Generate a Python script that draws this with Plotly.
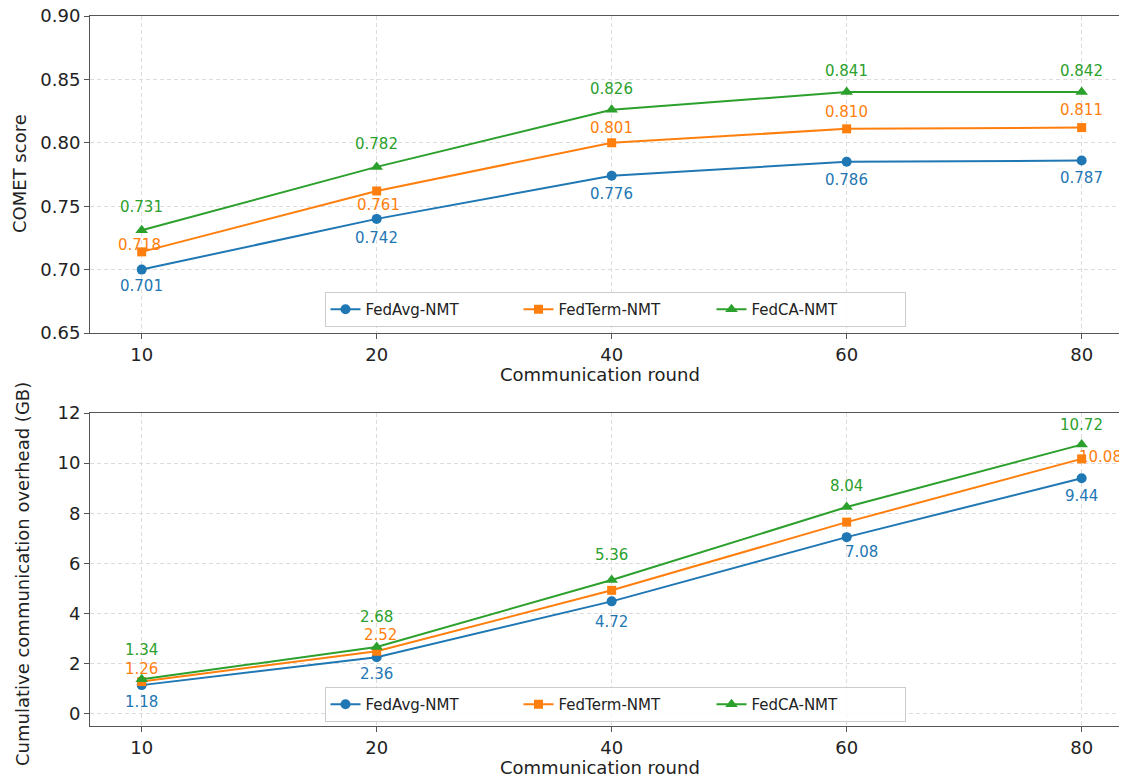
import plotly.graph_objects as go

# ---------------- data ----------------
rounds = ["10", "20", "40", "60", "80"]
series_names = ["FedAvg-NMT", "FedTerm-NMT", "FedCA-NMT"]

comet_fedavg = [0.700, 0.740, 0.774, 0.785, 0.786]
comet_fedterm = [0.714, 0.762, 0.800, 0.811, 0.812]
comet_fedca = [0.731, 0.781, 0.826, 0.840, 0.840]

comet_lbl_fedavg = ["0.701", "0.742", "0.776", "0.786", "0.787"]
comet_lbl_fedterm = ["0.718", "0.761", "0.801", "0.810", "0.811"]
comet_lbl_fedca = ["0.731", "0.782", "0.826", "0.841", "0.842"]

comm_fedavg = [1.15, 2.26, 4.49, 7.05, 9.40]
comm_fedterm = [1.29, 2.50, 4.93, 7.65, 10.17]
comm_fedca = [1.38, 2.67, 5.34, 8.25, 10.74]

comm_lbl_fedavg = ["1.18", "2.36", "4.72", "7.08", "9.44"]
comm_lbl_fedterm = ["1.26", "2.52", "", "", "10.08"]
comm_lbl_fedca = ["1.34", "2.68", "5.36", "8.04", "10.72"]

comet_ticks = [0.65, 0.70, 0.75, 0.80, 0.85, 0.90]
comm_ticks = [0, 2, 4, 6, 8, 10, 12]

# ---------------- styles ----------------
colors = ["#1f77b4", "#ff7f0e", "#2ca02c"]
symbols = ["circle", "square", "triangle-up"]
msizes = [10, 9, 11]
FONT = "DejaVu Sans"
PAGE = 8                      # default body margin of the html page
W, H = 1127 - PAGE, 778 - PAGE

# label offsets (px): (xshift, yshift) per point
top_off = [
    [(0, -16), (0, -19), (0, -18), (0, -18), (0, -17)],
    [(-2, 7), (2, -14), (0, 15), (0, 17), (0, 18)],
    [(0, 23), (0, 23), (0, 21), (0, 21), (0, 21)],
]
bot_off = [
    [(0, -17), (0, -17), (0, -21), (15, -15), (0, -18)],
    [(0, 13), (4, 16), (0, 0), (0, 0), (19, 2)],
    [(0, 29), (0, 30), (0, 25), (0, 21), (0, 20)],
]

top_vals = [comet_fedavg, comet_fedterm, comet_fedca]
top_lbls = [comet_lbl_fedavg, comet_lbl_fedterm, comet_lbl_fedca]
bot_vals = [comm_fedavg, comm_fedterm, comm_fedca]
bot_lbls = [comm_lbl_fedavg, comm_lbl_fedterm, comm_lbl_fedca]

fig = go.Figure()
annotations = []

for i in range(3):
    fig.add_trace(go.Scatter(
        x=rounds, y=top_vals[i], mode="lines+markers", name=series_names[i],
        line=dict(color=colors[i], width=2),
        marker=dict(symbol=symbols[i], size=msizes[i], color=colors[i]),
        xaxis="x", yaxis="y", legend="legend"))
    fig.add_trace(go.Scatter(
        x=rounds, y=bot_vals[i], mode="lines+markers", name=series_names[i],
        line=dict(color=colors[i], width=2),
        marker=dict(symbol=symbols[i], size=msizes[i], color=colors[i]),
        xaxis="x2", yaxis="y2", legend="legend2"))
    for j in range(len(rounds)):
        # category axes: annotation x uses the category serial number
        if top_lbls[i][j]:
            annotations.append(dict(
                x=j, y=top_vals[i][j], xref="x", yref="y",
                text=top_lbls[i][j], showarrow=False,
                xshift=top_off[i][j][0], yshift=top_off[i][j][1],
                font=dict(family=FONT, size=15, color=colors[i])))
        if bot_lbls[i][j]:
            annotations.append(dict(
                x=j, y=bot_vals[i][j], xref="x2", yref="y2",
                text=bot_lbls[i][j], showarrow=False,
                xshift=bot_off[i][j][0], yshift=bot_off[i][j][1],
                font=dict(family=FONT, size=15, color=colors[i])))

L = 90 - PAGE
PW = W - L


def px_x(p):
    # p: pixel in the screenshot
    return (p - PAGE - L) / PW


def px_y(p):
    return 1 - (p - PAGE) / H


title_font = dict(family=FONT, size=18, color="#222")
annotations += [
    dict(text="COMET score", x=px_x(20), y=px_y(174), xref="paper", yref="paper",
         textangle=-90, showarrow=False, xanchor="center", yanchor="middle", font=title_font),
    dict(text="Cumulative communication overhead (GB)", x=px_x(22), y=px_y(574),
         xref="paper", yref="paper", textangle=-90, showarrow=False,
         xanchor="center", yanchor="middle", font=title_font),
    dict(text="Communication round", x=px_x(600), y=px_y(374), xref="paper", yref="paper",
         showarrow=False, xanchor="center", yanchor="middle", font=title_font),
    dict(text="Communication round", x=px_x(600), y=px_y(767), xref="paper", yref="paper",
         showarrow=False, xanchor="center", yanchor="middle", font=title_font),
]

axis_common = dict(
    showline=True, linecolor="#555", linewidth=1,
    ticks="outside", ticklen=5, tickcolor="#555",
    showgrid=True, gridcolor="#dcdcdc", griddash="4px,3px", gridwidth=1,
    zeroline=False, automargin=False, ticklabeloverflow="allow",
    tickfont=dict(family=FONT, size=18, color="#222"),
)

xrange = [-0.22, 4.193]

legend_common = dict(
    orientation="h", xanchor="center", yanchor="bottom",
    bgcolor="rgba(255,255,255,0.85)", bordercolor="#cccccc", borderwidth=1,
    font=dict(family=FONT, size=15, color="#222"),
    entrywidth=148, entrywidthmode="pixels",
)

fig.update_layout(
    template="none",
    width=W, height=H,
    margin=dict(l=L, r=0, t=0, b=0, autoexpand=False),
    paper_bgcolor="white", plot_bgcolor="white",
    font=dict(family=FONT, color="#222"),
    xaxis=dict(domain=[0, 1], anchor="y", type="category", range=xrange,
               mirror=True, **axis_common),
    yaxis=dict(domain=[px_y(333), px_y(16)], anchor="x", range=[0.65, 0.90],
               tickvals=comet_ticks, tickformat=".2f", **axis_common),
    xaxis2=dict(domain=[0, 1], anchor="y2", type="category", range=xrange,
                mirror=True, **axis_common),
    yaxis2=dict(domain=[px_y(726), px_y(413)], anchor="x2", range=[-0.48, 12.0],
                tickvals=comm_ticks, **axis_common),
    legend=dict(x=px_x(615), y=px_y(327), **legend_common),
    legend2=dict(x=px_x(615), y=px_y(722), **legend_common),
    annotations=annotations,
    showlegend=True,
)

fig.write_html("out.html")
